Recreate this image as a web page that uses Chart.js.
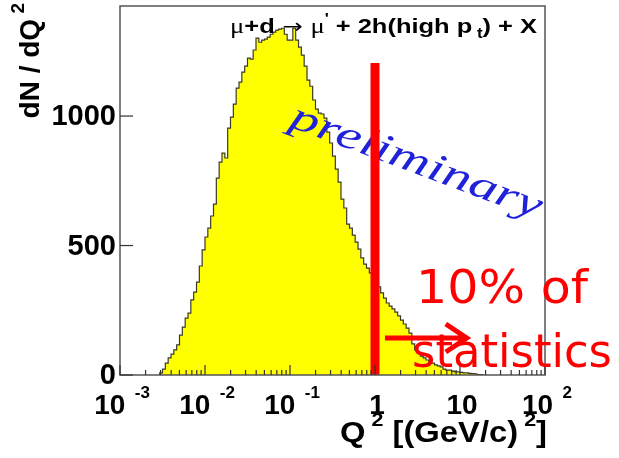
<!DOCTYPE html>
<html>
<head>
<meta charset="utf-8">
<script src="https://cdn.jsdelivr.net/npm/chart.js@4.4.0/dist/chart.umd.min.js"></script>
<style>
  body { margin: 0; background: #fff; }
  #wrap { width: 619px; height: 458px; }
</style>
</head>
<body>
<div id="wrap"><canvas id="q2Chart" width="619" height="458"></canvas></div>
<script>
// Q^2 histogram, log binning: 30 bins per decade starting at 1e-3
const q2Min = 1e-3;
const q2Max = 1e2;
const binsPerDecade = 30;
const firstBin = 14; // bins below this one are empty
const counts = [
  8, 23, 46, 66, 81, 97, 116, 154, 185, 220,
  239, 290, 320, 359, 421, 483, 533, 567, 614, 660,
  760, 822, 857, 838, 953, 996, 1046, 1108, 1131, 1170,
  1193, 1224, 1220, 1255, 1301, 1285, 1293, 1297, 1305, 1316,
  1324, 1332, 1336, 1339, 1316, 1293, 1293, 1339, 1293, 1266,
  1235, 1193, 1139, 1115, 1062, 1027, 1011, 1008, 992, 938,
  896, 845, 795, 745, 679, 645, 583, 567, 540, 513,
  486, 452, 428, 413, 394, 374, 359, 340, 317, 297,
  278, 266, 255, 243, 228, 212, 197, 181, 162, 120,
  97, 85, 73, 66, 58, 50, 46, 39, 35, 31,
  23, 19, 19, 15, 12, 12, 10, 8, 8, 6,
  5, 4, 2, 2
];
const yMax = 1425;
const yTicks = [0, 500, 1000];
const xDecades = [-3, -2, -1, 0, 1, 2];
const xTickLabels = [["10", "-3"], ["10", "-2"], ["10", "-1"], ["1", ""], ["10", ""], ["10", "2"]];

// cut at Q^2 = 1 and the arrow pointing to higher Q^2
const cutQ2 = 1;
const cutTop = 1205;
const arrowY = 143;
const arrowFrom = 1.31;
const arrowTo = 12;

// build the stepped outline from bin edges
function binEdge(i) {
  return Math.pow(10, Math.log10(q2Min) + (firstBin + i) / binsPerDecade);
}
const histPoints = [{ x: binEdge(0), y: 0 }];
counts.forEach((c, i) => histPoints.push({ x: binEdge(i), y: c }));
histPoints.push({ x: binEdge(counts.length), y: 0 });

const BOLD = "'Liberation Sans', Arial, sans-serif";

// draws runs of text one after another, returns the width
function drawRuns(ctx, runs, x, y, measureOnly) {
  let cx = x;
  runs.forEach(r => {
    ctx.font = r.font;
    if (!measureOnly) ctx.fillText(r.text, cx, y + (r.dy || 0));
    cx += ctx.measureText(r.text).width;
  });
  return cx - x;
}

// text squeezed/stretched to a given width
function fitText(ctx, text, x, y, width) {
  const w = ctx.measureText(text).width;
  ctx.save();
  ctx.translate(x, y);
  ctx.scale(width / w, 1);
  ctx.fillText(text, 0, 0);
  ctx.restore();
}

const decorations = {
  id: "decorations",
  afterDatasetDraw(chart, args) {
    if (args.index !== 0) return;
    // "preliminary" stamp over the histogram
    const ctx = chart.ctx;
    ctx.save();
    ctx.translate(288, 126);
    ctx.rotate(20.5 * Math.PI / 180);
    ctx.font = "italic 40px 'Liberation Serif', serif";
    const w = ctx.measureText("preliminary").width;
    ctx.scale(266 / w, 1);
    ctx.fillStyle = "#1f22d8";
    ctx.textBaseline = "alphabetic";
    ctx.fillText("preliminary", 0, 0);
    ctx.restore();
  },
  afterDatasetsDraw(chart) {
    const ctx = chart.ctx;
    const xs = chart.scales.x;
    const ys = chart.scales.y;
    const area = chart.chartArea;
    ctx.save();

    // frame
    ctx.strokeStyle = "#555";
    ctx.lineWidth = 1.5;
    ctx.strokeRect(area.left, area.top, area.right - area.left, area.bottom - area.top);

    // x ticks (inward)
    ctx.lineWidth = 1.2;
    ctx.strokeStyle = "#333";
    xDecades.forEach((d, i) => {
      const px = xs.getPixelForValue(Math.pow(10, d));
      ctx.beginPath();
      ctx.moveTo(px, area.bottom);
      ctx.lineTo(px, area.bottom - 10);
      ctx.stroke();
      if (i < xDecades.length - 1) {
        for (let m = 2; m <= 9; m++) {
          const mx = xs.getPixelForValue(m * Math.pow(10, d));
          ctx.beginPath();
          ctx.moveTo(mx, area.bottom);
          ctx.lineTo(mx, area.bottom - 5);
          ctx.stroke();
        }
      }
    });
    // y ticks (inward)
    yTicks.forEach(v => {
      const py = ys.getPixelForValue(v);
      ctx.beginPath();
      ctx.moveTo(area.left, py);
      ctx.lineTo(area.left + 13, py);
      ctx.stroke();
    });

    ctx.fillStyle = "#000";
    // y tick labels
    ctx.font = "bold 29px " + BOLD;
    ctx.textAlign = "right";
    ctx.textBaseline = "middle";
    yTicks.forEach(v => {
      ctx.fillText(String(v), 116, ys.getPixelForValue(v) + 1);
    });

    // x tick labels with exponents
    ctx.textAlign = "left";
    ctx.textBaseline = "alphabetic";
    xDecades.forEach((d, i) => {
      const px = xs.getPixelForValue(Math.pow(10, d));
      const lab = xTickLabels[i];
      const runs = [{ text: lab[0], font: "bold 28px " + BOLD }];
      if (lab[1]) runs.push({ text: "  " + lab[1], font: "bold 17px " + BOLD, dy: -16 });
      const w = drawRuns(ctx, runs, 0, 0, true);
      drawRuns(ctx, runs, px - w / 2 + 2, 414);
    });

    // x title, stretched to span 340..547
    const xTitle = [
      { text: "Q", font: "bold 29px " + BOLD },
      { text: " 2", font: "bold 19px " + BOLD, dy: -16 },
      { text: " [(GeV/c)", font: "bold 29px " + BOLD },
      { text: " 2", font: "bold 19px " + BOLD, dy: -16 },
      { text: "]", font: "bold 29px " + BOLD }
    ];
    const xtw = drawRuns(ctx, xTitle, 0, 0, true);
    ctx.save();
    ctx.translate(340, 442);
    ctx.scale(207 / xtw, 1);
    drawRuns(ctx, xTitle, 0, 0);
    ctx.restore();

    // y title (rotated, aligned to the top end)
    const yTitle = [
      { text: "dN / dQ", font: "bold 28px " + BOLD },
      { text: " 2", font: "bold 19px " + BOLD, dy: -15 }
    ];
    const ytw = drawRuns(ctx, yTitle, 0, 0, true);
    ctx.save();
    ctx.translate(39, 3 + ytw);
    ctx.rotate(-Math.PI / 2);
    drawRuns(ctx, yTitle, 0, 0);
    ctx.restore();

    // reaction label
    const reaction = [
      { text: "\u03bc", font: "22px 'Liberation Serif', serif" },
      { text: "+d", font: "bold 21px " + BOLD },
      { text: " \u2192 ", font: "20px 'DejaVu Sans', sans-serif" },
      { text: "\u03bc", font: "22px 'Liberation Serif', serif" },
      { text: "'", font: "bold 14px " + BOLD, dy: -10 },
      { text: " + 2h(high p", font: "bold 21px " + BOLD },
      { text: " t", font: "bold 14px " + BOLD, dy: 5 },
      { text: ") + X", font: "bold 21px " + BOLD }
    ];
    const rw = drawRuns(ctx, reaction, 0, 0, true);
    ctx.save();
    ctx.translate(230, 33);
    ctx.scale(307 / rw, 1);
    drawRuns(ctx, reaction, 0, 0);
    ctx.restore();

    // red arrow
    const ax0 = xs.getPixelForValue(arrowFrom);
    const ax1 = xs.getPixelForValue(arrowTo);
    const ay = ys.getPixelForValue(arrowY);
    ctx.strokeStyle = "#ff0000";
    ctx.lineWidth = 5;
    ctx.beginPath();
    ctx.moveTo(ax0, ay);
    ctx.lineTo(ax1, ay);
    ctx.moveTo(ax1 - 21, ay - 14);
    ctx.lineTo(ax1, ay);
    ctx.lineTo(ax1 - 21, ay + 14);
    ctx.stroke();

    // red note
    ctx.fillStyle = "#ff0000";
    ctx.font = "47px 'DejaVu Sans', Verdana, sans-serif";
    fitText(ctx, "10% of", 416, 303, 172);
    fitText(ctx, "statistics", 412, 367, 200);
    ctx.restore();
  }
};

new Chart(document.getElementById("q2Chart"), {
  type: "line",
  data: {
    datasets: [
      {
        label: "Q2",
        data: histPoints,
        stepped: true,
        fill: "origin",
        backgroundColor: "#ffff00",
        borderColor: "#3a3a2a",
        borderWidth: 1.2,
        pointRadius: 0,
        order: 1
      },
      {
        label: "cut",
        data: [{ x: cutQ2, y: 0 }, { x: cutQ2, y: cutTop }],
        borderColor: "#ff0000",
        borderWidth: 9,
        borderCapStyle: "butt",
        pointRadius: 0,
        fill: false,
        order: 0
      }
    ]
  },
  options: {
    responsive: false,
    animation: false,
    layout: { padding: { left: 120, right: 74, top: 6, bottom: 83 } },
    plugins: { legend: { display: false }, tooltip: { enabled: false } },
    scales: {
      x: { type: "logarithmic", min: q2Min, max: q2Max, display: false },
      y: { type: "linear", min: 0, max: yMax, display: false }
    }
  },
  plugins: [decorations]
});
</script>
</body>
</html>
